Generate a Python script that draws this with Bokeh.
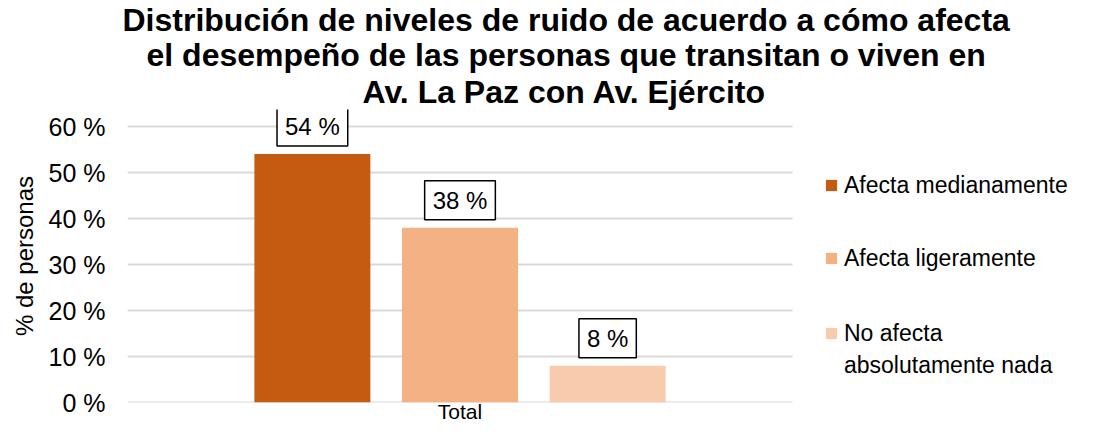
from bokeh.plotting import figure
from bokeh.models import (ColumnDataSource, Range1d, Legend, LegendItem,
                          PrintfTickFormatter, FixedTicker, Title)
from bokeh.core.properties import value
from bokeh.transform import dodge
from bokeh.embed import file_html
from bokeh.resources import INLINE

categories = ["Total"]
series = ["Afecta medianamente", "Afecta ligeramente", "No afecta absolutamente nada"]
legend_lines = [["Afecta medianamente"], ["Afecta ligeramente"], ["No afecta", "absolutamente nada"]]
values = [54, 38, 8]
value_labels = ["54 %", "38 %", "8 %"]
colors = ["#C55A11", "#F4B183", "#F8CBAD"]
offsets = [-0.222, 0.0, 0.222]
y_ticks = [0, 10, 20, 30, 40, 50, 60]
title_lines = ["Distribución de niveles de ruido de acuerdo a cómo afecta",
               "el desempeño de las personas que transitan o viven en",
               "Av. La Paz con Av. Ejército"]

FONT = "Liberation Sans"
W, H = 1092, 425
LEFT = 127
TOP = 109
BOTTOM = 23
CAT_PX = 665          # pixel width of the category band
PX_PER_UNIT = 4.6     # vertical pixels per percentage point
FRAME_W = W - LEFT
FRAME_H = H - TOP - BOTTOM
cat_pos = list(range(len(categories)))

p = figure(width=W, height=H, title=None,
           x_range=Range1d(-0.5, -0.5 + FRAME_W / CAT_PX),
           y_range=Range1d(0, FRAME_H / PX_PER_UNIT),
           output_backend="svg", toolbar_location=None,
           min_border_left=LEFT, min_border_right=0,
           min_border_top=TOP, min_border_bottom=BOTTOM)

# title lines (stacked outward from the plot frame: last line first)
title_offsets = [-5, 19, 235]
title_standoffs = [-4, -1, -1]
for txt, off, so in reversed(list(zip(title_lines, title_offsets, title_standoffs))):
    t = Title(text=txt, align="left", offset=off, standoff=so,
              text_font=FONT, text_font_size="32px", text_font_style="bold",
              text_color="black")
    p.add_layout(t, "above")

p.outline_line_color = None
p.xgrid.grid_line_color = None
p.ygrid.grid_line_color = None
p.yaxis.ticker = FixedTicker(ticks=y_ticks)
p.yaxis.formatter = PrintfTickFormatter(format="%d %%")
p.xaxis.ticker = FixedTicker(ticks=cat_pos)
p.xaxis.major_label_overrides = {i: c for i, c in zip(cat_pos, categories)}

# gridlines restricted to the category band
p.segment(x0=[cat_pos[0] - 0.5] * len(y_ticks), x1=[cat_pos[-1] + 0.5] * len(y_ticks),
          y0=y_ticks, y1=y_ticks, line_color="#D9D9D9", line_width=2)

for ax in (p.xaxis, p.yaxis):
    ax.axis_line_color = None
    ax.major_tick_line_color = None
    ax.minor_tick_line_color = None
    ax.major_tick_out = 0
    ax.major_tick_in = 0
    ax.minor_tick_out = 0
    ax.major_label_text_font = FONT
    ax.major_label_text_color = "black"

p.yaxis.major_label_text_font_size = "25px"
p.yaxis.major_label_standoff = 22
p.yaxis.axis_label = "% de personas"
p.yaxis.axis_label_text_font = FONT
p.yaxis.axis_label_text_font_size = "24px"
p.yaxis.axis_label_text_font_style = "normal"
p.yaxis.axis_label_text_color = "black"
p.yaxis.axis_label_standoff = 8

p.xaxis.major_label_text_font_size = "21px"
p.xaxis.major_label_standoff = -3

renderers = []
for name, val, lab, col, off in zip(series, values, value_labels, colors, offsets):
    src = ColumnDataSource(dict(x=cat_pos, top=[val], label=[lab]))
    r = p.vbar(x=dodge("x", off), top="top", width=0.1744,
               source=src, fill_color=col, line_color=None)
    renderers.append(r)
    p.text(x=dodge("x", off), y="top", text="label",
           source=src, text_align="center", text_baseline="bottom",
           y_offset=-8, text_font=value(FONT), text_font_size="24px",
           text_color="black", background_fill_color="white",
           border_line_color="black", border_line_width=1.5,
           padding=(8, 6))

# invisible renderer used only to hold the legend's continuation line
blank = p.vbar(x=[], top=[], width=0.1, fill_alpha=0, line_alpha=0)

legend_style = dict(label_text_font=FONT, label_text_font_size="23px",
                    label_text_color="black", glyph_width=14, glyph_height=14,
                    padding=0, margin=0, label_standoff=6,
                    border_line_color=None, background_fill_alpha=0)

legend_a = Legend(items=[LegendItem(label=legend_lines[0][0], renderers=[renderers[0]]),
                         LegendItem(label=legend_lines[1][0], renderers=[renderers[1]])],
                  location=(697, 117), label_height=54, spacing=19, **legend_style)
legend_b = Legend(items=[LegendItem(label=legend_lines[2][0], renderers=[renderers[2]]),
                         LegendItem(label=legend_lines[2][1], renderers=[blank])],
                  location=(697, 23), label_height=28, spacing=4, **legend_style)
p.add_layout(legend_a)
p.add_layout(legend_b)

open("out.html", "w").write(file_html(p, INLINE))
